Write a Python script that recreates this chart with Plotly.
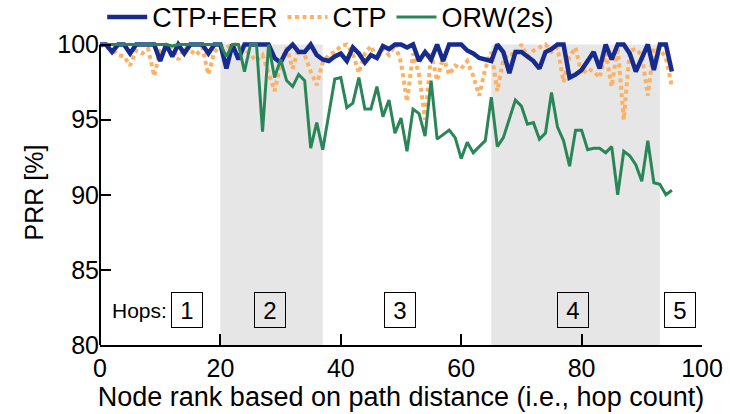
import plotly.graph_objects as go

node_rank = list(range(96))

prr_ctp_eer = [100, 100, 99.5, 100, 100, 99.4, 100, 100, 100, 100,
               98.9, 100, 99.2, 100, 99.4, 100, 100, 100, 99.4, 100,
               100, 98.4, 100, 99.0, 100, 100, 100, 100, 100, 99.1,
               98.8, 99.6, 100, 99.5, 99.5, 100, 99.3, 99.0, 98.9, 99.2,
               99.4, 98.9, 99.8, 99.4, 98.8, 99.3, 99.1, 99.9, 99.7, 100,
               100, 99.8, 100, 98.9, 99.5, 99.0, 100, 98.9, 100, 100,
               100, 99.6, 99.4, 99.1, 99.0, 98.9, 100, 99.5, 98.1, 99.5,
               99.5, 99.2, 98.9, 98.4, 99.5, 99.7, 100, 100, 97.8, 98.0,
               98.3, 98.9, 99.5, 98.4, 100, 99.0, 100, 100, 99.4, 98.2,
               99.1, 100, 98.3, 100, 100, 98.2]

prr_ctp = [100, 99.8, 99.7, 99.3, 99.2, 98.6, 99.6, 99.4, 99.7, 97.9,
           99.6, 100, 99.8, 99.0, 99.8, 99.6, 99.3, 99.8, 98.0, 99.5,
           99.9, 99.8, 100, 100, 99.7, 99.3, 98.9, 99.3, 98.0, 96.9,
           98.7, 99.8, 98.4, 99.7, 99.3, 98.2, 97.3, 98.8, 99.3, 99.5,
           99.9, 100, 99.4, 98.1, 99.4, 99.9, 99.0, 99.7, 99.3, 100,
           98.8, 96.2, 99.4, 98.0, 95.0, 99.4, 97.6, 99.2, 98.0, 98.6,
           98.4, 98.9, 97.9, 96.6, 98.4, 99.5, 96.9, 99.0, 99.4, 99.3,
           100, 99.2, 99.6, 99.8, 100, 99.5, 99.8, 97.5, 99.2, 99.8,
           98.0, 98.4, 98.2, 97.8, 99.4, 97.2, 99.8, 95.0, 99.6, 99.7,
           99.3, 96.6, 99.8, 99.7, 99.1, 97.2]

prr_orw = [100, 100, 100, 100, 100, 100, 100, 100, 100, 100,
           100, 100, 99.9, 100, 100, 100, 100, 100, 100, 100,
           100, 99.2, 100, 100, 98.2, 100, 100, 94.2, 100, 97.8,
           99.0, 97.6, 97.2, 98.0, 97.6, 93.1, 94.8, 93.0, 95.4, 97.7,
           97.8, 95.8, 96.1, 97.8, 95.7, 95.7, 97.2, 95.2, 96.3, 94.1,
           95.1, 92.9, 95.7, 95.4, 93.9, 97.6, 93.7, 94.0, 94.3, 93.8,
           92.4, 93.5, 92.8, 93.2, 93.6, 96.5, 93.2, 93.8, 95.0, 96.3,
           95.9, 94.7, 94.8, 93.7, 94.1, 96.8, 94.5, 93.6, 91.9, 94.3,
           94.3, 93.0, 93.1, 93.1, 92.8, 93.2, 90.0, 92.9, 92.6, 92.0,
           90.9, 93.6, 90.8, 90.7, 90.0, 90.3]

hop_regions = [(20, 37), (65, 93)]          # shaded hop bands
hop_labels = ["1", "2", "3", "4", "5"]
hop_label_x = [14.5, 28.2, 49.9, 78.5, 96.3]
hop_label_y = 82.3

X_RANGE = [0, 100]
Y_RANGE = [80, 100.3]
FONT = "Liberation Sans, Arial, Helvetica, sans-serif"

fig = go.Figure()

fig.add_trace(go.Scatter(x=node_rank, y=prr_ctp, mode="lines", name="CTP",
                         line=dict(color="#ffb163", width=4, dash="4px,3.5px"),
                         legendrank=2))
fig.add_trace(go.Scatter(x=node_rank, y=prr_ctp_eer, mode="lines", name="CTP+EER",
                         line=dict(color="#172b8f", width=4.5),
                         legendrank=1))
fig.add_trace(go.Scatter(x=node_rank, y=prr_orw, mode="lines", name="ORW(2s)",
                         line=dict(color="#2a8558", width=3),
                         legendrank=3))

shapes = []
for x0, x1 in hop_regions:
    shapes.append(dict(type="rect", xref="x", yref="y", x0=x0, x1=x1, y0=80, y1=100,
                       fillcolor="#e6e6e6", line=dict(width=0), layer="below"))
# left axis line (only up to 100)
y_top_paper = (100 - Y_RANGE[0]) / (Y_RANGE[1] - Y_RANGE[0])
shapes.append(dict(type="line", xref="paper", yref="paper", x0=0, x1=0, y0=0, y1=y_top_paper,
                   line=dict(color="black", width=2)))

annotations = [dict(x=6.55, y=hop_label_y, xref="x", yref="y", text="Hops:", showarrow=False,
                    font=dict(size=21, family=FONT, color="black"))]
for lab, hx in zip(hop_labels, hop_label_x):
    annotations.append(dict(x=hx, y=hop_label_y, xref="x", yref="y", text=lab, showarrow=False,
                            font=dict(size=24, family=FONT, color="black"),
                            bordercolor="black", borderwidth=1, borderpad=2,
                            width=26, height=30))

fig.update_layout(
    width=730, height=414,
    margin=dict(l=99.5, r=27.5, t=40.2, b=69.3, autoexpand=False),
    plot_bgcolor="white", paper_bgcolor="white",
    font=dict(family=FONT, color="black"),
    shapes=shapes, annotations=annotations,
    legend=dict(orientation="h", xref="container", yref="container",
                x=0.14, xanchor="left", y=0.958, yanchor="middle",
                font=dict(size=27, family=FONT), bgcolor="rgba(0,0,0,0)",
                traceorder="normal", itemwidth=40),
    xaxis=dict(range=X_RANGE, tickvals=[0, 20, 40, 60, 80, 100], ticks="inside", ticklen=11,
               tickwidth=2, tickcolor="black", showline=True, linewidth=2, linecolor="black",
               showgrid=False, zeroline=False, tickfont=dict(size=25, family=FONT),
               title=dict(text="Node rank based on path distance (i.e., hop count)",
                          font=dict(size=27, family=FONT), standoff=2)),
    yaxis=dict(range=Y_RANGE, tickvals=[80, 85, 90, 95, 100], ticks="inside", ticklen=11,
               tickwidth=2, tickcolor="black", showline=False,
               showgrid=False, zeroline=False, tickfont=dict(size=25, family=FONT),
               title=dict(text="PRR [%]", font=dict(size=25, family=FONT), standoff=6)),
)

fig.write_html("out.html")
